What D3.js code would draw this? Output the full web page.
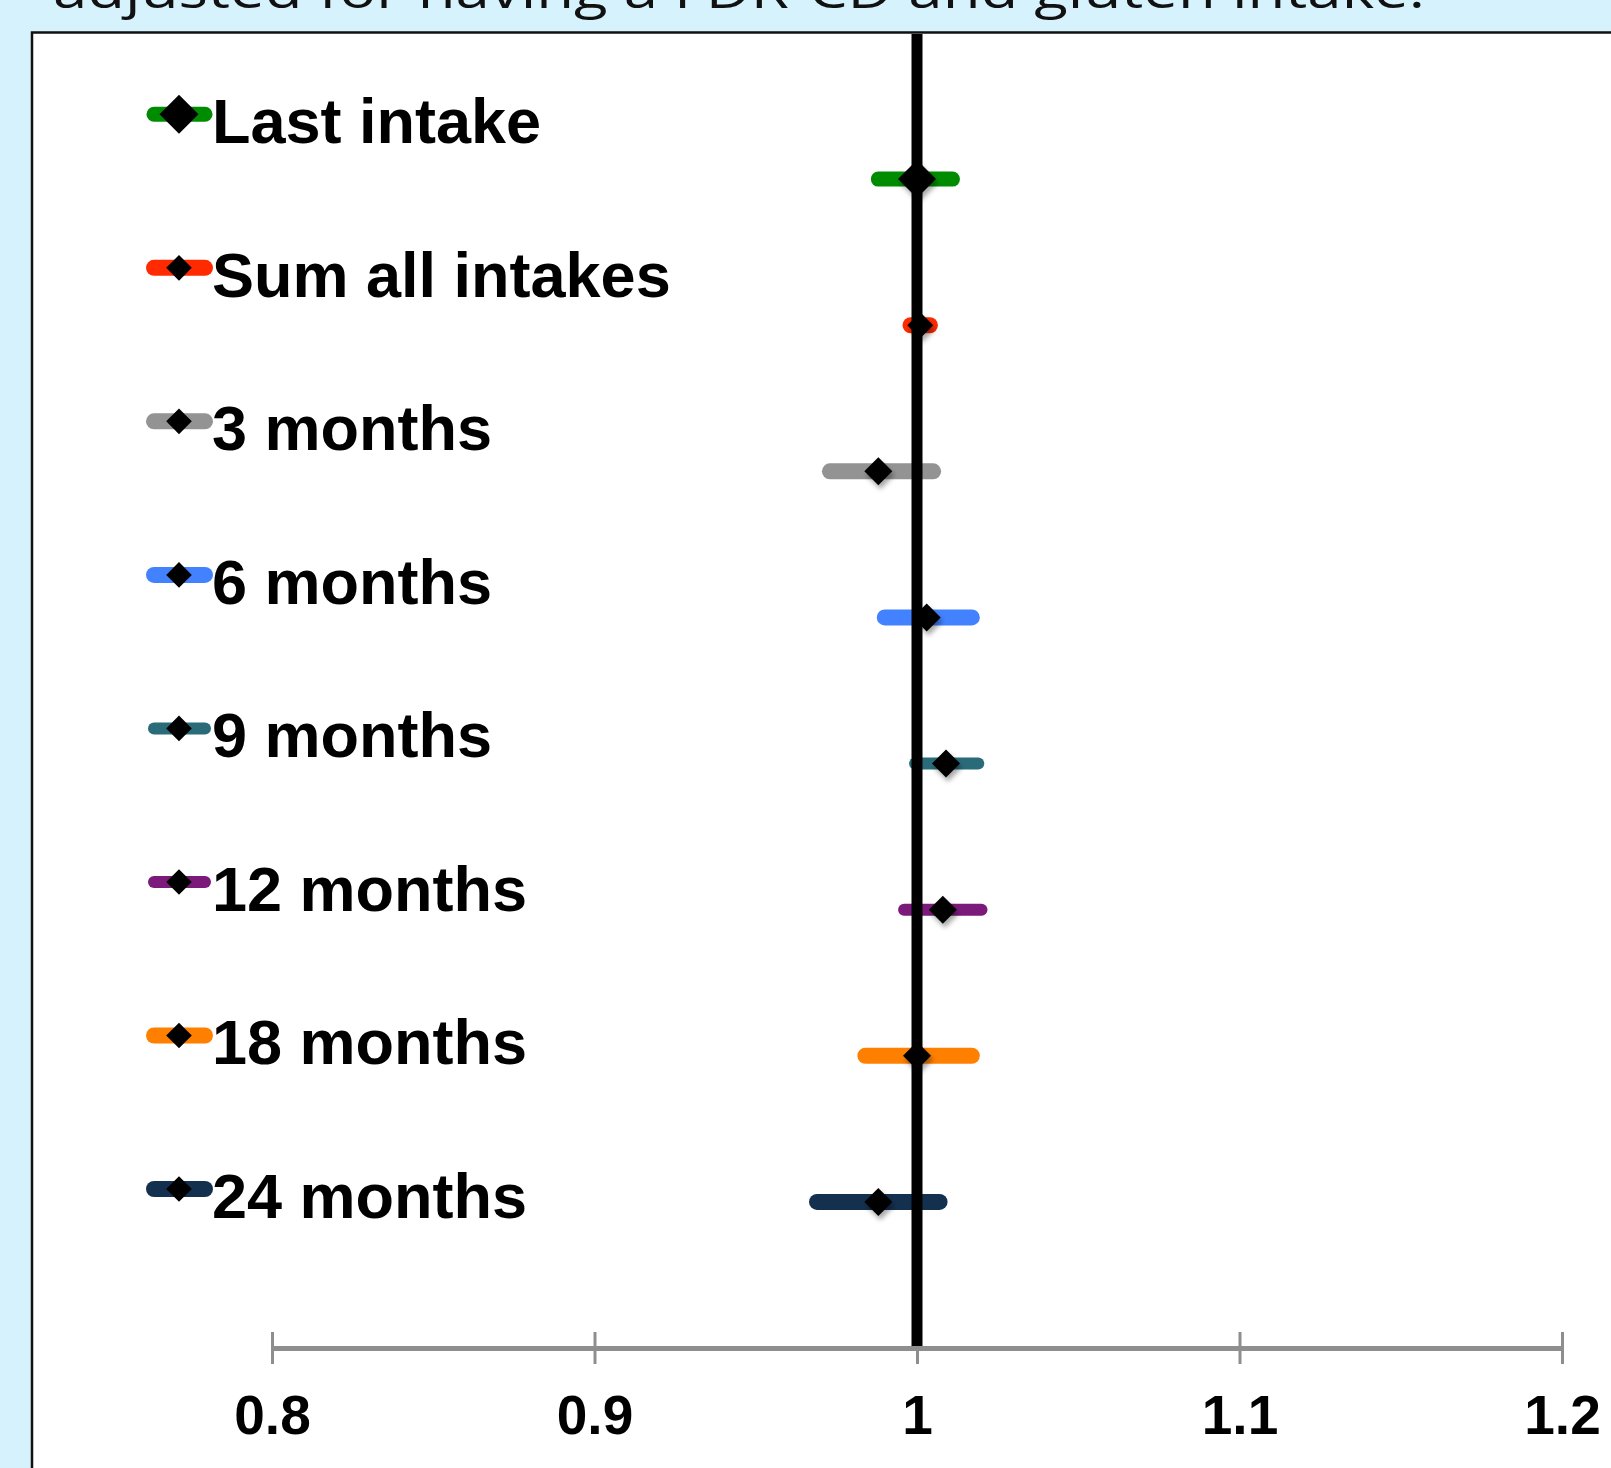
<!DOCTYPE html>
<html>
<head>
<meta charset="utf-8">
<script src="https://cdn.jsdelivr.net/npm/d3@7"></script>
<style>
  body { margin: 0; background: #d5f2fd; }
  svg { display: block; }
</style>
</head>
<body>
<svg id="chart"></svg>
<script>
// odds ratios with 95% CI
const categories = ["Last intake", "Sum all intakes", "3 months", "6 months", "9 months", "12 months", "18 months", "24 months"]
const estimates = [1.000, 1.001, 0.988, 1.003, 1.009, 1.008, 1.000, 0.988]
const lower = [0.988, 0.998, 0.973, 0.990, 0.9994, 0.996, 0.984, 0.969]
const upper = [1.011, 1.004, 1.005, 1.017, 1.019, 1.020, 1.017, 1.007]
const ticks = [0.8, 0.9, 1.0, 1.1, 1.2]
const tickLabels = ["0.8", "0.9", "1", "1.1", "1.2"]

const colors = ["#008c00", "#ff2a00", "#939393", "#4382ff", "#2a6b7a", "#7b1a7a", "#ff8000", "#14304f"]
const barWidths = [15, 16, 16, 16, 12, 12, 16, 16]
const diamondSizes = [19, 13, 14, 14, 14, 14, 14, 14]

const width = 1611, height = 1468

const svg = d3.select("#chart")
  .attr("width", width)
  .attr("height", height)

const defs = svg.append("defs")
const shadow = defs.append("filter").attr("id", "shadow")
  .attr("x", "-50%").attr("y", "-50%").attr("width", "200%").attr("height", "200%")
shadow.append("feDropShadow")
  .attr("dx", 2).attr("dy", 4)
  .attr("stdDeviation", 2.5)
  .attr("flood-color", "#000")
  .attr("flood-opacity", 0.35)

svg.append("rect")
  .attr("width", width).attr("height", height)
  .attr("fill", "#d5f2fd")

// title, cut off at the top of the picture
svg.append("text")
  .attr("x", 53).attr("y", 8)
  .attr("font-family", "'Open Sans', 'DejaVu Sans', sans-serif")
  .attr("font-size", 50)
  .attr("fill", "#111")
  .attr("textLength", 1372)
  .attr("lengthAdjust", "spacingAndGlyphs")
  .text("adjusted for having a FDR-CD and gluten intake.")

// plot frame, runs off the right and bottom edges
svg.append("rect")
  .attr("x", 32).attr("y", 32.5)
  .attr("width", width + 20).attr("height", height + 20)
  .attr("fill", "#fff")
  .attr("stroke", "#111")
  .attr("stroke-width", 2.5)

const x = d3.scaleLinear()
  .domain([0.8, 1.2])
  .range([272, 1562])

const y = d3.scalePoint()
  .domain(categories)
  .range([33, 1348])
  .padding(1)

const axisY = 1348

// x axis
const axis = svg.append("g")
  .attr("transform", `translate(0,${axisY})`)
  .call(d3.axisBottom(x).tickValues(ticks).tickSize(0).tickFormat((d, i) => tickLabels[i]))

axis.select(".domain")
  .attr("stroke", "#8e8e8e")
  .attr("stroke-width", 5)

axis.selectAll(".tick line").remove()
axis.selectAll(".tick").append("line")
  .attr("y1", -16).attr("y2", 16)
  .attr("stroke", "#8e8e8e")
  .attr("stroke-width", 3)

axis.selectAll(".tick text")
  .attr("y", 86)
  .attr("dy", 0)
  .attr("font-family", "'Liberation Sans', Arial, sans-serif")
  .attr("font-weight", "bold")
  .attr("font-size", 55)
  .attr("fill", "#000")

// error bars
const rows = svg.selectAll("g.row")
  .data(categories)
  .enter().append("g")
  .attr("class", "row")

rows.append("line")
  .attr("x1", (d, i) => x(lower[i]))
  .attr("x2", (d, i) => x(upper[i]))
  .attr("y1", d => y(d))
  .attr("y2", d => y(d))
  .attr("stroke", (d, i) => colors[i])
  .attr("stroke-width", (d, i) => barWidths[i])
  .attr("stroke-linecap", "round")

// reference line at 1
svg.append("line")
  .attr("x1", x(1)).attr("x2", x(1))
  .attr("y1", 34).attr("y2", axisY - 2)
  .attr("stroke", "#000")
  .attr("stroke-width", 11)

const diamond = s => `M0,${-s}L${s},0L0,${s}L${-s},0Z`

svg.selectAll("path.est")
  .data(categories)
  .enter().append("path")
  .attr("class", "est")
  .attr("d", (d, i) => diamond(diamondSizes[i]))
  .attr("transform", (d, i) => `translate(${x(estimates[i])},${y(d)})`)
  .attr("fill", "#000")
  .attr("filter", "url(#shadow)")

// legend
const legendY = d3.scalePoint()
  .domain(categories)
  .range([114.3, 1189])

const legend = svg.selectAll("g.legend")
  .data(categories)
  .enter().append("g")
  .attr("class", "legend")
  .attr("transform", d => `translate(0,${legendY(d)})`)

legend.append("line")
  .attr("x1", 154).attr("x2", 205)
  .attr("stroke", (d, i) => colors[i])
  .attr("stroke-width", (d, i) => barWidths[i])
  .attr("stroke-linecap", "round")

legend.append("path")
  .attr("d", (d, i) => diamond(i === 0 ? 19.5 : 12.8))
  .attr("transform", "translate(179,0)")
  .attr("fill", "#000")

legend.append("text")
  .attr("x", 212)
  .attr("y", 29)
  .attr("font-family", "'Liberation Sans', Arial, sans-serif")
  .attr("font-weight", "bold")
  .attr("font-size", 63)
  .attr("fill", "#000")
  .text(d => d)
</script>
</body>
</html>
